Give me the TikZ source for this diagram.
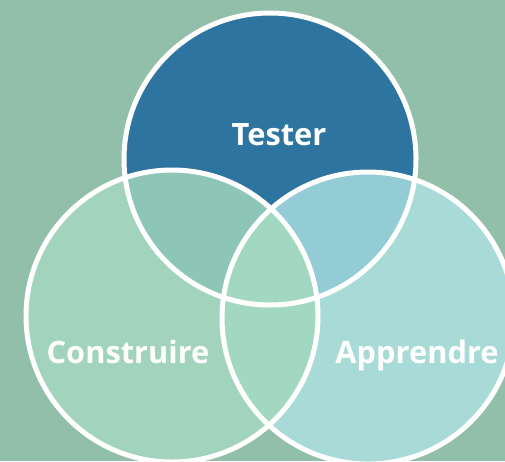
\documentclass[tikz,border=0pt]{standalone}
\usepackage{fontspec}
\setmainfont{Open Sans}
\definecolor{bg}{HTML}{91BFA9}
\definecolor{ctop}{HTML}{2D74A0}
\definecolor{cleft}{HTML}{A2D3BC}
\definecolor{cright}{HTML}{A8DBD8}
\definecolor{ctl}{HTML}{8DC6B6}
\definecolor{ctr}{HTML}{93CCD5}
\definecolor{clr}{HTML}{A2D7C1}
\tikzset{
  ring/.style={draw=white, line width=5pt},
  lbl/.style={text=white, font=\bfseries\fontsize{30.8}{36}\selectfont, anchor=base, inner sep=0pt}
}
\begin{document}
\begin{tikzpicture}[x=1pt,y=-1pt]
\fill[bg] (0,0) rectangle (505,461);
\useasboundingbox (0,0) rectangle (505,461);
\def\R{146}
\coordinate (T) at (270,159);
\coordinate (L) at (172,316);
\coordinate (Rc) at (368,318);
\fill[ctop] (T) circle[radius=\R];
\fill[cleft] (L) circle[radius=\R];
\fill[cright] (Rc) circle[radius=\R];
\begin{scope}
  \clip (T) circle[radius=\R];
  \fill[ctl] (L) circle[radius=\R];
  \fill[ctr] (Rc) circle[radius=\R];
\end{scope}
\begin{scope}
  \clip (L) circle[radius=\R];
  \fill[clr] (Rc) circle[radius=\R];
\end{scope}
\draw[ring] (T) circle[radius=\R];
\draw[ring] (L) circle[radius=\R];
\draw[ring] (Rc) circle[radius=\R];
\node[lbl] (tester) at (279,145) {Tester};
\node[lbl] (constr) at (128,363) {Construire};
\node[lbl] (appr) at (417,363) {Apprendre};
\end{tikzpicture}
\end{document}
